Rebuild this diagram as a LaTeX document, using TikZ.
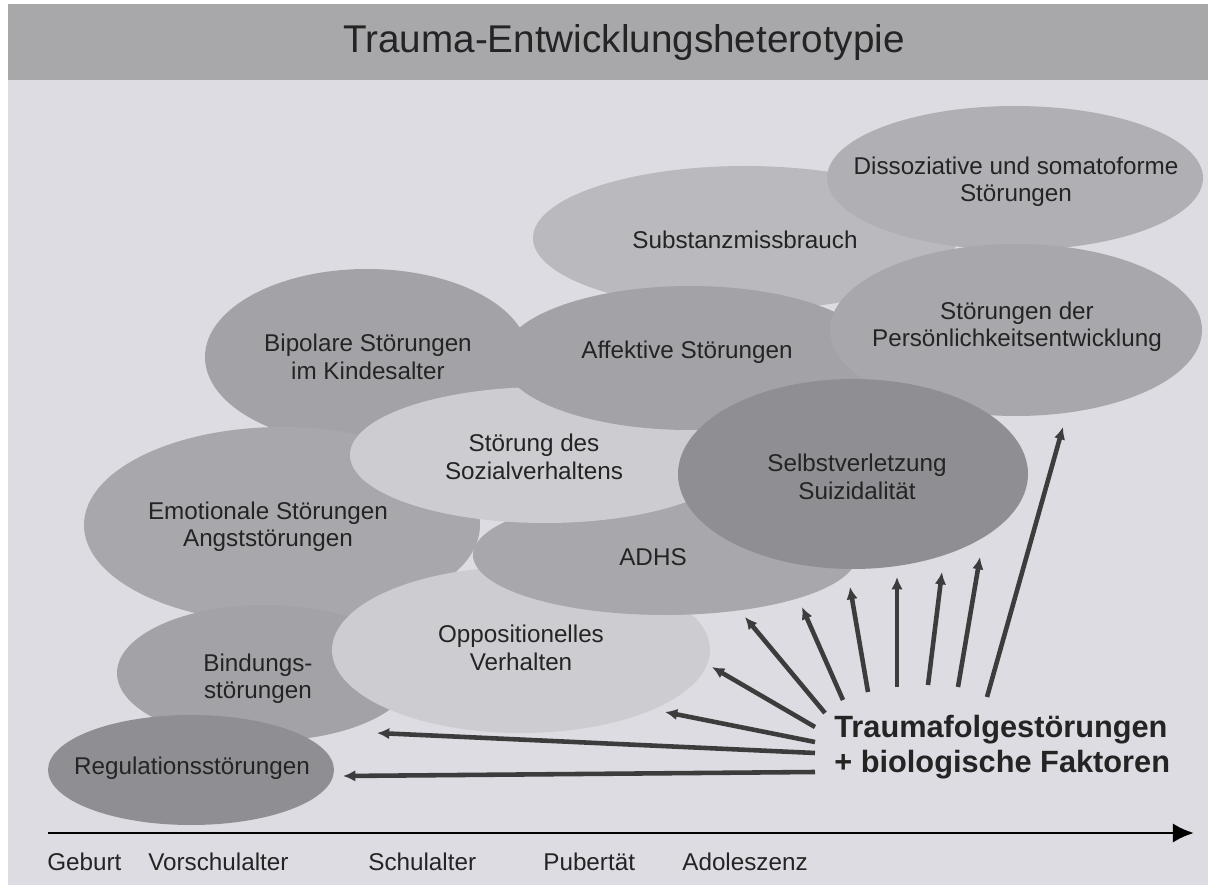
\documentclass[tikz,border=0pt]{standalone}
\usepackage{fontspec}
\setmainfont{Liberation Sans}
\usetikzlibrary{arrows.meta}
\definecolor{paper}{HTML}{DCDCE2}
\definecolor{titlebar}{HTML}{A8A8AB}
\definecolor{dark}{HTML}{8F8F93}
\definecolor{midA}{HTML}{A3A3A7}
\definecolor{midB}{HTML}{A8A8AC}
\definecolor{midC}{HTML}{B0B0B4}
\definecolor{pale}{HTML}{B9B9BE}
\definecolor{light}{HTML}{CCCCD1}
\definecolor{ink}{HTML}{242424}
\definecolor{arrowgray}{HTML}{3C3C3C}

\begin{document}
\begin{tikzpicture}[x=0.02cm,y=-0.02cm,
  lbl/.style={align=center,text=ink,inner sep=0pt,font=\fontsize{13.8}{15.6}\selectfont},
  fan/.style={draw=arrowgray,line width=2.6pt,-{Latex[length=7pt,width=6.5pt]}}]

\fill[white] (0,0) rectangle (1208,885);
\useasboundingbox (0,0) rectangle (1208,885);
\fill[paper] (8,4) rectangle (1208,885);
\fill[titlebar] (8,4) rectangle (1208,80);
\node[anchor=base,text=ink,inner sep=0pt,font=\fontsize{22}{26}\selectfont] (title) at (624,53) {Trauma-Entwicklungsheterotypie};

% back row first, front row last
\fill[pale] (745,238) ellipse [x radius=212, y radius=72];
\node[lbl] (subst) at (745,240) {Substanzmissbrauch};
\fill[midC] (1015,178) ellipse [x radius=188, y radius=72];
\node[lbl] (dissoz) at (1016,182) {Dissoziative und somatoforme\\Störungen};
\fill[midA] (367,357) ellipse [x radius=162, y radius=88];
\node[lbl] (bipolar) at (368,357) {Bipolare Störungen\\im Kindesalter};
\fill[midB] (282,525) ellipse [x radius=198, y radius=98];
\node[lbl] (emot) at (268,527) {Emotionale Störungen\\Angststörungen};
\fill[midA] (265,673) ellipse [x radius=148, y radius=68];
\node[lbl] (bindung) at (258,679) {Bindungs-\\störungen};
\fill[dark] (191,770) ellipse [x radius=143, y radius=55];
\node[lbl] (regul) at (192,768) {Regulationsstörungen};
\fill[light] (521,650) ellipse [x radius=189, y radius=83];
\node[lbl] (opp) at (521,648) {Oppositionelles\\Verhalten};
\fill[midB] (665,555) ellipse [x radius=192, y radius=60];
\node[lbl] (adhs) at (653,557) {ADHS};
\fill[light] (545,455) ellipse [x radius=195, y radius=68];
\node[lbl] (sozial) at (534,457) {Störung des\\Sozialverhaltens};
\fill[midA] (690,358) ellipse [x radius=188, y radius=72];
\node[lbl] (affekt) at (687,352) {Affektive Störungen};
\fill[midB] (1016,330) ellipse [x radius=186, y radius=86];
\node[lbl] (persoen) at (1017,327) {Störungen der\\Persönlichkeitsentwicklung};
\fill[dark] (853,474) ellipse [x radius=175, y radius=95];
\node[lbl] (selbst) at (857,477) {Selbstverletzung\\Suizidalität};

% base of a two-line node is the last line
\node[anchor=base west,align=left,text=ink,inner sep=0pt,
  font=\fontsize{17.5}{19.9}\selectfont\bfseries] (trauma) at (834,772)
  {Traumafolgestörungen\\+ biologische Faktoren};

\foreach \n/\tx/\ty/\hx/\hy in {1/815/772/343/776, 2/815/753/377/733,
  3/815/742/665/712, 4/815/727/712/667, 5/825/713/745/617,
  6/843/700/802/607, 7/868/692/850/587, 8/897/687/897/577,
  9/928/685/942/572, 10/958/687/980/557, 11/987/697/1063/427}{
  \coordinate (t\n) at (\tx,\ty);
  \coordinate (h\n) at (\hx,\hy);
  \draw[fan] (t\n) -- (h\n);
}

\coordinate (birth) at (48,833);
\coordinate (later) at (1194,833);
\draw[line width=1.7pt,-{Latex[length=12pt,width=11pt]}] (birth) -- (later);
\node[lbl,anchor=base west] (geburt) at (47,870) {Geburt};
\node[lbl,anchor=base west] (vorschule) at (148,870) {Vorschulalter};
\node[lbl,anchor=base west] (schule) at (368,870) {Schulalter};
\node[lbl,anchor=base west] (pubertaet) at (543,870) {Pubertät};
\node[lbl,anchor=base west] (adoleszenz) at (682,870) {Adoleszenz};
\end{tikzpicture}
\end{document}
